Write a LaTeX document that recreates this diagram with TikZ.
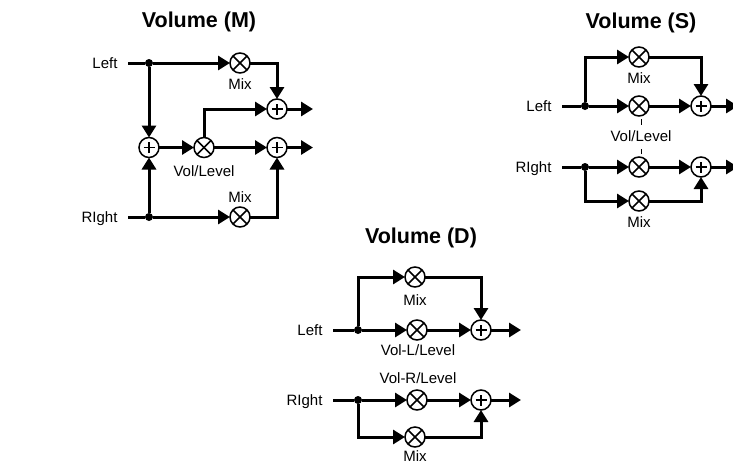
\documentclass[tikz,border=0pt]{standalone}
\usepackage{fontspec}
\setmainfont{Liberation Sans}
\usetikzlibrary{arrows.meta}
\tikzset{
  wire/.style={line width=3pt,line join=miter},
  flow/.style={wire,-{Triangle[length=12pt,width=14pt]}},
  tickline/.style={line width=1pt},
  opnode/.style={circle,draw=black,fill=white,line width=1.5pt,minimum size=20pt,inner sep=0pt,outer sep=0pt},
  mult/.style={opnode,path picture={
    \draw[line width=1.5pt] (path picture bounding box.north west)--(path picture bounding box.south east);
    \draw[line width=1.5pt] (path picture bounding box.north east)--(path picture bounding box.south west);}},
  addop/.style={opnode,path picture={
    \draw[line width=1.5pt] ([xshift=-5.5pt]path picture bounding box.center)--([xshift=5.5pt]path picture bounding box.center);
    \draw[line width=1.5pt] ([yshift=-5.5pt]path picture bounding box.center)--([yshift=5.5pt]path picture bounding box.center);}},
  joint/.style={circle,fill=black,minimum size=8pt,inner sep=0pt,outer sep=0pt},
  inlabel/.style={anchor=east,font=\fontsize{15}{15}\selectfont,text height=10pt,text depth=0pt,inner ysep=0pt,inner xsep=10.5pt,outer sep=0pt},
  caption/.style={font=\fontsize{15}{15}\selectfont,inner sep=0pt,text height=10pt,text depth=0pt},
  heading/.style={font=\bfseries\fontsize{21.5}{21.5}\selectfont,inner sep=0pt},
}
\begin{document}
\begin{tikzpicture}[x=1pt,y=-1pt]
\useasboundingbox (0,0) rectangle (733,464);
% Volume (M)
\node[heading] (MT) at (199,22) {Volume (M)};
\node[inlabel] (ML) at (128,63) {Left};
\node[inlabel] (MR) at (128,217) {RIght};
\node[joint] (MJ1) at (149,63) {};
\node[joint] (MJ2) at (149,217) {};
\node[mult] (MX1) at (240,63) {};
\node[mult] (MX2) at (240,217) {};
\node[addop] (MS0) at (149,147.5) {};
\node[mult] (MV) at (204,147.5) {};
\node[addop] (MS1) at (277,109) {};
\node[addop] (MS2) at (277,147.5) {};
\coordinate (MO1) at (313,109);
\coordinate (MO2) at (313,147.5);
\node[caption] (MC1) at (240,84) {Mix};
\node[caption] (MC2) at (240,197) {Mix};
\node[caption] (MC3) at (204,171) {Vol/Level};
\draw[wire] (ML.east) -- (MJ1);
\draw[wire] (MR.east) -- (MJ2);
\draw[flow] (MJ1) -- (MX1);
\draw[flow] (MJ2) -- (MX2);
\draw[flow] (MJ1) -- (MS0);
\draw[flow] (MJ2) -- (MS0);
\draw[flow] (MS0) -- (MV);
\draw[flow] (MX1) -| (MS1);
\draw[flow] (MX2) -| (MS2);
\draw[flow] (MV) |- (MS1);
\draw[flow] (MV) -- (MS2);
\draw[flow] (MS1) -- (MO1);
\draw[flow] (MS2) -- (MO2);
% Volume (S)
\node[heading] (ST) at (641,23) {Volume (S)};
\node[inlabel] (SL) at (562,106) {Left};
\node[inlabel] (SR) at (562,167) {RIght};
\node[joint] (SJ1) at (585,106) {};
\node[joint] (SJ2) at (585,167) {};
\node[mult] (SX1) at (639,57) {};
\node[mult] (SX2) at (639,106) {};
\node[mult] (SX3) at (639,167) {};
\node[mult] (SX4) at (639,201) {};
\node[addop] (SS1) at (701,106) {};
\node[addop] (SS2) at (701,167) {};
\coordinate (SO1) at (738,106);
\coordinate (SO2) at (738,167);
\node[caption] (SC1) at (639,78) {Mix};
\node[caption] (SC2) at (641,136) {Vol/Level};
\node[caption] (SC3) at (639,222) {Mix};
\draw[wire] (SL.east) -- (SJ1);
\draw[wire] (SR.east) -- (SJ2);
\draw[flow] (SJ1) |- (SX1);
\draw[flow] (SJ1) -- (SX2);
\draw[flow] (SJ2) -- (SX3);
\draw[flow] (SJ2) |- (SX4);
\draw[flow] (SX1) -| (SS1);
\draw[flow] (SX2) -- (SS1);
\draw[flow] (SX3) -- (SS2);
\draw[flow] (SX4) -| (SS2);
\draw[flow] (SS1) -- (SO1);
\draw[flow] (SS2) -- (SO2);
\draw[tickline] (SX2) ++(2,13) -- ++(0,6);
\draw[tickline] (SX3) ++(2,-13) -- ++(0,-5);
% Volume (D)
\node[heading] (DT) at (421,238) {Volume (D)};
\node[inlabel] (DL) at (333,330) {Left};
\node[inlabel] (DR) at (333,400) {RIght};
\node[joint] (DJ1) at (358,330) {};
\node[joint] (DJ2) at (358,400) {};
\node[mult] (DX1) at (415,277) {};
\node[mult] (DX2) at (417,330) {};
\node[mult] (DX3) at (417,400) {};
\node[mult] (DX4) at (415,437) {};
\node[addop] (DS1) at (481,330) {};
\node[addop] (DS2) at (481,400) {};
\coordinate (DO1) at (521,330);
\coordinate (DO2) at (521,400);
\node[caption] (DC1) at (415,300) {Mix};
\node[caption] (DC2) at (418,350) {Vol-L/Level};
\node[caption] (DC3) at (418,378) {Vol-R/Level};
\node[caption] (DC4) at (415,456) {Mix};
\draw[wire] (DL.east) -- (DJ1);
\draw[wire] (DR.east) -- (DJ2);
\draw[flow] (DJ1) |- (DX1);
\draw[flow] (DJ1) -- (DX2);
\draw[flow] (DJ2) -- (DX3);
\draw[flow] (DJ2) |- (DX4);
\draw[flow] (DX1) -| (DS1);
\draw[flow] (DX2) -- (DS1);
\draw[flow] (DX3) -- (DS2);
\draw[flow] (DX4) -| (DS2);
\draw[flow] (DS1) -- (DO1);
\draw[flow] (DS2) -- (DO2);
\end{tikzpicture}
\end{document}
